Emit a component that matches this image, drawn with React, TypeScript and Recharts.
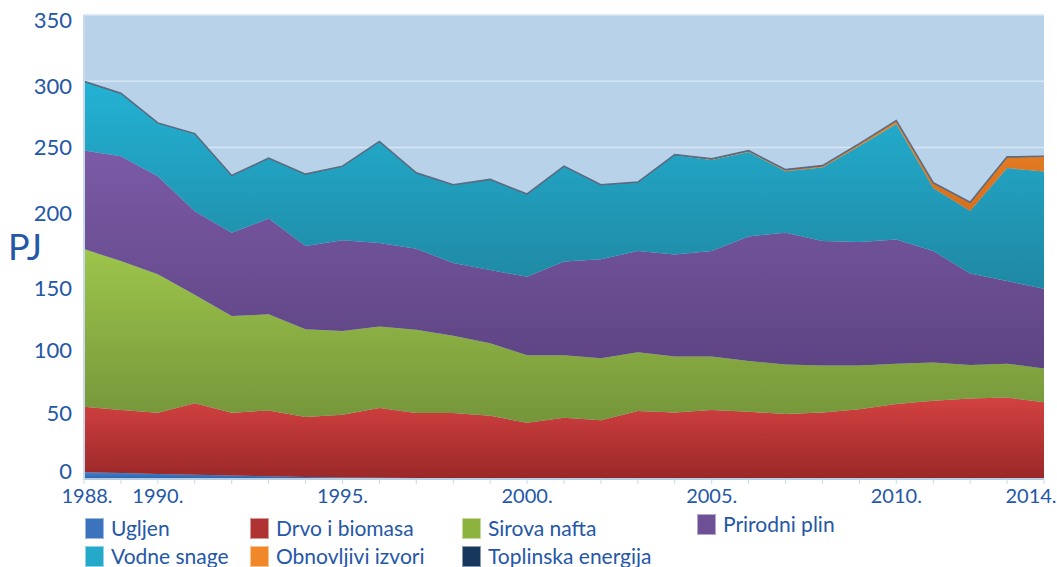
import { AreaChart, Area, XAxis, YAxis, CartesianGrid, Label } from 'recharts';

const years = [
  '1988', '1989', '1990', '1991', '1992', '1993', '1994', '1995', '1996',
  '1997', '1998', '1999', '2000', '2001', '2002', '2003', '2004', '2005',
  '2006', '2007', '2008', '2009', '2010', '2011', '2012', '2013', '2014',
];
const labeledYears = ['1988', '1990', '1995', '2000', '2005', '2010', '2014'];
const yTicks = [0, 50, 100, 150, 200, 250, 300, 350];

const ugljen = [5, 4.5, 3.8, 3.3, 2.6, 2.1, 1.6, 1.2, 0.9, 0.7, 0.5, 0.4, 0.3, 0.2, 0.1, 0.1, 0.1, 0, 0, 0, 0, 0, 0, 0, 0, 0, 0];
const drvo = [49.5, 47.5, 46.2, 53.9, 47.4, 49.6, 45.1, 47.2, 52.6, 49, 49.2, 47.3, 42.1, 46, 44.3, 51.1, 50.1, 52, 50.7, 49, 50.2, 52.7, 56.5, 59, 60.8, 61.5, 57.8];
const nafta = [118.9, 112.4, 104.4, 81.8, 73, 72.5, 66.3, 63.3, 61.5, 62.8, 58.3, 54.7, 51, 47.2, 46.6, 44.4, 42.2, 40.4, 38.3, 37.3, 35.4, 32.9, 30.5, 28.8, 25.2, 25.5, 25.5];
const plin = [74.3, 79.1, 74, 63, 62.7, 72.3, 62.7, 68.3, 63, 61.2, 55, 55.2, 59.2, 70.6, 74.7, 76.4, 77, 79.6, 94, 99.5, 93.9, 93.1, 93.7, 84.2, 69, 62.3, 60.3];
const vodne = [51.8, 47, 39.7, 58, 42.8, 45, 53.8, 55.5, 76.2, 56.8, 58.5, 67.9, 61.9, 71.5, 55.8, 51.5, 74.8, 68.7, 63.7, 46.4, 55.4, 72.5, 87.1, 47.5, 47.3, 85.2, 88.4];
const obnovljivi = [0, 0, 0, 0, 0, 0, 0, 0, 0, 0, 0, 0, 0, 0, 0, 0, 0, 0.3, 0.5, 0.7, 1, 1.3, 2, 3.5, 6, 8, 11];
const toplinska = [0.5, 0.5, 0.5, 0.5, 0.5, 0.5, 0.5, 0.5, 0.5, 0.5, 0.5, 0.5, 0.5, 0.5, 0.5, 0.5, 0.5, 0.5, 0.5, 0.5, 0.5, 0.5, 0.5, 0.5, 0.5, 0.5, 0.5];

const data = years.map((year, i) => ({
  year,
  ugljen: ugljen[i],
  drvo: drvo[i],
  nafta: nafta[i],
  plin: plin[i],
  vodne: vodne[i],
  obnovljivi: obnovljivi[i],
  toplinska: toplinska[i],
}));

const series = [
  { key: 'ugljen', name: 'Ugljen', top: '#4082d0', bottom: '#2d62a8', swatch: '#3b73bd' },
  { key: 'drvo', name: 'Drvo i biomasa', top: '#d44141', bottom: '#9a2828', swatch: '#b03333' },
  { key: 'nafta', name: 'Sirova nafta', top: '#9dc54b', bottom: '#75953a', swatch: '#8db33f' },
  { key: 'plin', name: 'Prirodni plin', top: '#7c5aa6', bottom: '#5d4483', swatch: '#6d5096' },
  { key: 'vodne', name: 'Vodne snage', top: '#23b2d4', bottom: '#1f88a3', swatch: '#25a9cb' },
  { key: 'obnovljivi', name: 'Obnovljivi izvori', top: '#ef8a2a', bottom: '#d86f1c', swatch: '#f0882a' },
  { key: 'toplinska', name: 'Toplinska energija', top: '#1a3a64', bottom: '#1a3a64', swatch: '#17375e' },
];

const blue = '#2457a7';
const font = 'Lato, "Open Sans", sans-serif';

// legend placement as in the original figure
const legendPos = [
  { left: 85, top: 516 },
  { left: 250, top: 516 },
  { left: 462, top: 516 },
  { left: 697, top: 512 },
  { left: 85, top: 544 },
  { left: 250, top: 544 },
  { left: 462, top: 544 },
];

// small vertical nudges of the y labels, like the source image
const yLabelShift: Record<number, number> = { 0: -8, 50: 0, 100: 4, 150: 8, 200: -1, 250: 0, 300: 5, 350: 5 };

const XTick = ({ x, y, payload }: any) => {
  if (!labeledYears.includes(payload.value)) return null;
  const dx = payload.value === '2014' ? -13 : payload.value === '1988' ? 3 : 0;
  return (
    <text x={x + dx} y={y + 1} dy="0.75em" textAnchor="middle" fill={blue} fontSize={20} fontFamily={font}>
      {`${payload.value}.`}
    </text>
  );
};

const YTick = ({ x, y, payload }: any) => (
  <text x={x} y={y + (yLabelShift[payload.value] ?? 0)} dy="0.355em" textAnchor="end" fill={blue} fontSize={22} fontFamily={font}>
    {payload.value}
  </text>
);

export default function App() {
  return (
    <div style={{ position: 'absolute', left: 0, top: 0, width: 1057, height: 567, background: '#fff', fontFamily: font }}>
      <AreaChart width={1057} height={520} data={data} margin={{ top: 15, right: 13, bottom: 0, left: 0 }}>
        <defs>
          {series.map((s) => (
            <linearGradient key={s.key} id={`g-${s.key}`} x1="0" y1="0" x2="0" y2="1">
              <stop offset="0%" stopColor={s.top} />
              <stop offset="100%" stopColor={s.bottom} />
            </linearGradient>
          ))}
        </defs>
        <CartesianGrid vertical={false} fill="#b8d2e9" stroke="#d6e6f4" strokeWidth={1.5} />
        <XAxis
          dataKey="year"
          height={41}
          interval={0}
          tickSize={5}
          tickMargin={3}
          axisLine={{ stroke: '#b5cce3', strokeWidth: 2 }}
          tickLine={{ stroke: '#c9d9ea' }}
          tick={<XTick />}
        />
        <YAxis
          width={84}
          domain={[0, 350]}
          ticks={yTicks}
          tickLine={false}
          tickSize={6}
          tickMargin={6}
          axisLine={{ stroke: '#c9d9ea', strokeWidth: 2 }}
          tick={<YTick />}
        >
          <Label
            value="PJ"
            position="insideLeft"
            offset={8}
            style={{ fill: blue, fontSize: 36, fontFamily: font, textAnchor: 'start' }}
          />
        </YAxis>
        {series.map((s) => (
          <Area
            key={s.key}
            type="linear"
            dataKey={s.key}
            name={s.name}
            stackId="1"
            fill={`url(#g-${s.key})`}
            fillOpacity={1}
            stroke={s.key === 'toplinska' ? '#5b6b80' : 'none'}
            strokeWidth={s.key === 'toplinska' ? 1.5 : 0}
            isAnimationActive={false}
          />
        ))}
      </AreaChart>
      {series.map((s, i) => (
        <div
          key={s.key}
          style={{
            position: 'absolute',
            left: legendPos[i].left,
            top: legendPos[i].top,
            display: 'flex',
            alignItems: 'center',
            color: blue,
            fontSize: 21,
            lineHeight: '24px',
            whiteSpace: 'nowrap',
          }}
        >
          <span
            style={{
              display: 'inline-block',
              width: 17,
              height: 19,
              background: s.swatch,
              border: '1px solid rgba(255,255,255,0.5)',
              marginRight: 7,
            }}
          />
          {s.name}
        </div>
      ))}
    </div>
  );
}
